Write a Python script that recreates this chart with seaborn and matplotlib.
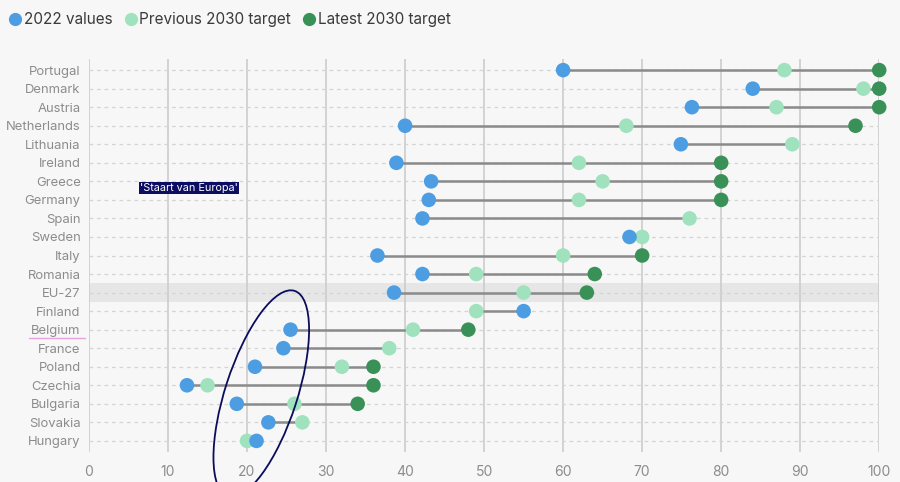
import numpy as np
import pandas as pd
import matplotlib.pyplot as plt
import seaborn as sns
from matplotlib.patches import Ellipse
from matplotlib.lines import Line2D
from matplotlib.transforms import IdentityTransform

# data, top to bottom
countries = ["Portugal", "Denmark", "Austria", "Netherlands", "Lithuania", "Ireland",
             "Greece", "Germany", "Spain", "Sweden", "Italy", "Romania", "EU-27",
             "Finland", "Belgium", "France", "Poland", "Czechia", "Bulgaria",
             "Slovakia", "Hungary"]
values_2022 = [60, 84, 76.3, 40, 74.9, 38.9, 43.3, 43.0, 42.2, 68.4, 36.5, 42.2,
               38.6, 55.0, 25.5, 24.6, 21.0, 12.4, 18.7, 22.7, 21.2]
previous_2030 = [88, 98, 87, 68, 89, 62, 65, 62, 76, 70, 60, 49, 55, 49, 41, 38,
                 32, 15, 26, 27, 20]
latest_2030 = [100, 100, 100, 97, np.nan, 80, 80, 80, np.nan, np.nan, 70, 64, 63,
               np.nan, 48, np.nan, 36, 36, 34, np.nan, np.nan]
x_ticks = [0, 10, 20, 30, 40, 50, 60, 70, 80, 90, 100]

series_names = ["2022 values", "Previous 2030 target", "Latest 2030 target"]
palette = {"2022 values": "#4c9de2", "Previous 2030 target": "#9fe2bd",
           "Latest 2030 target": "#3a9157"}

wide = pd.DataFrame({"country": countries, "2022 values": values_2022,
                     "Previous 2030 target": previous_2030,
                     "Latest 2030 target": latest_2030})
# draw order: previous, 2022, latest
long = wide.melt(id_vars="country",
                 value_vars=["Previous 2030 target", "2022 values", "Latest 2030 target"],
                 var_name="series", value_name="value").dropna()

sns.set_theme(style="white")
plt.rcParams["font.family"] = ["Inter", "DejaVu Sans"]
bg = "#f7f7f7"

fig = plt.figure(figsize=(9, 4.82), dpi=100, facecolor=bg)
ax = fig.add_axes([0.0989, 0.0622, 0.878, 0.8154], facecolor=bg)

# EU-27 band
eu = countries.index("EU-27")
ax.axhspan(eu - 0.5, eu + 0.5, color="#e6e6e6", zorder=0.1, lw=0)

# connecting lines
vals = wide[series_names]
ax.hlines(range(len(countries)), vals.min(axis=1), vals.max(axis=1),
          color="#8a8a8a", lw=1.8, zorder=2)

sns.scatterplot(data=long, x="value", y="country", hue="series",
                hue_order=series_names, palette=palette, s=110,
                edgecolor="none", linewidth=0, ax=ax, zorder=3,
                clip_on=False, legend=False)

ax.set_xlim(0, 100)
ax.set_ylim(len(countries) - 0.4, -0.6)
ax.set_xticks(x_ticks)
ax.set_xlabel("")
ax.set_ylabel("")
ax.set_axisbelow(True)
ax.grid(axis="x", color="#cccccc", lw=1.2)
ax.grid(axis="y", color="#d4d4d4", lw=0.9, linestyle=(0, (3, 3)))
for s in ax.spines.values():
    s.set_visible(False)
ax.tick_params(axis="x", length=5, width=1.2, color="#cccccc", labelcolor="#8c8c8c",
               labelsize=10, pad=4)
ax.tick_params(axis="y", length=0, labelsize=9.4, labelcolor="#8c8c8c", pad=6)

# legend
handles = [Line2D([], [], marker="o", ls="", markersize=9.5,
                  markerfacecolor=palette[n], markeredgecolor="none") for n in series_names]
fig.legend(handles, series_names, loc="upper left", bbox_to_anchor=(-0.005, 1.0),
           ncol=3, frameon=False, fontsize=11, handletextpad=0.05,
           columnspacing=0.7, handlelength=1.0, borderaxespad=0.4,
           labelcolor="#3a3a3a")

# annotation label
ax.text(12.6, 6.35, "'Staart van Europa'", color="white", fontsize=7.8,
        ha="center", va="center", zorder=5,
        bbox=dict(boxstyle="square,pad=0.1", fc="#0b0c62", ec="none"))

# ellipse around the tail
fig.canvas.draw()
cx, cy = ax.transData.transform((21.8, 17.45))
ax.add_patch(Ellipse((cx, cy), width=216, height=72, angle=72, fill=False,
                     ec="#0b0c5a", lw=1.3, transform=IdentityTransform(),
                     clip_on=False, zorder=6))

# underline under Belgium
for lab in ax.get_yticklabels():
    if lab.get_text() == "Belgium":
        bb = lab.get_window_extent()
        fig.add_artist(Line2D([bb.x0 - 2, bb.x1 + 4], [bb.y0 - 1, bb.y0 - 1],
                              transform=IdentityTransform(), color="#e7a2e0", lw=1))

fig.savefig("out.png", dpi=100, facecolor=bg)
